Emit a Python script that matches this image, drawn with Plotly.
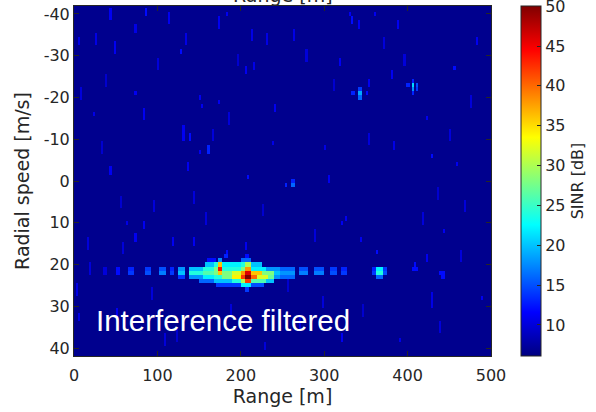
import numpy as np
import plotly.graph_objects as go

# Range-Doppler map grid (bin centres)
RANGE_STEP_M = 2.5
range_bins_m = np.arange(RANGE_STEP_M / 2, 500, RANGE_STEP_M)
speed_bins_mps = np.arange(-42, 43, 1.0)

# Residual noise floor after interference filtering [dB]
noise_floor_db = 6.7

# Isolated noise streaks: range [m], speed from / to [m/s], SINR [dB]
streak_range = [43, 86, 115, 75, 27, 7, 49, 129, 135, 173, 183, 215, 231, 263, 217, 207,
                73, 151, 155, 175, 241, 25, 131, 139, 161, 151, 137, 209, 239, 83, 43,
                335, 341, 331, 389, 361, 319, 457, 484, 381, 355, 425, 383, 429, 459, 301, 307,
                75, 63, 83, 119, 145, 183, 207, 3, 7, 51,
                321, 327, 345, 365, 409, 423, 445, 429, 321, 391, 490,
                253, 96, 60, 20, 110, 190, 290, 470, 440, 300, 230, 160,
                10, 39, 101, 167, 197, 279, 311, 353, 397, 437, 477, 17, 57, 93, 123,
                187, 227, 271, 347, 419, 463, 33, 143, 257, 371, 451]
streak_lo = [-41, -41, -40, -37, -35.7, -34, -33, -31.5, -35, -39, -40, -36, -35, -36, -28.5, -27,
             -21, -20.5, -18.5, -19.5, -18.5, -16, -13, -11, -8.5, -7.5, -4, -1, -9.5, -17, -3,
             -39, -38.5, -40.5, -38.5, -40.5, -29, -27.5, -34, -26, -24, -15.5, -9, -6.5, -4.5, -8.5, -1,
             13, 9.5, 9.5, 13.4, 13.4, 16.2, 14.5, 25, 32, 31,
             9.3, 8.5, 14, 16.5, 19.5, 18, 11.7, 27, 37, 38, 28,
             1, 5, 15, 20, 37, 30, 12, 5, 34, 28, 39, 8,
             -22, -25, -29, -12, -30, -31, -24, -11, -30, 2, -20, 14, 4, 26, 36,
             -16, 6, 33, 30, 8, 17, -9, 3, 24, -34, -12]
streak_hi = [-38.5, -40, -38, -36, -33, -33, -31, -30.5, -32.6, -37, -39.5, -34, -33, -34, -27, -26,
             -20.5, -19.5, -17.5, -18.5, -17, -15.5, -10, -10, -6.5, -6.5, -2.5, -0.5, -8.5, -15, -1.5,
             -38, -36.5, -40, -36.5, -40, -28, -27, -33, -25, -23, -14.5, -8, -6, -4, -7.5, 0.7,
             14, 10, 11.8, 15, 15, 18, 16, 27, 33.5, 32.5,
             10, 9.2, 14.5, 17.5, 20.8, 19, 12.8, 30, 38.5, 38.5, 28.5,
             1, 7, 17, 22, 39, 32, 14, 7, 36, 30, 40, 10,
             -20, -23, -27, -10, -28, -29, -22, -9, -28, 4, -18, 16, 6, 28, 38,
             -14, 8, 35, 32, 10, 19, -7, 5, 26, -32, -10]
streak_db = [11, 12, 11, 10.5, 10.5, 10.5, 11, 12, 10.5, 11, 11, 10.5, 10.5, 10.5, 10.5, 11,
             11, 11, 11, 11, 11, 10.5, 11, 12, 13, 11, 11, 12, 10.5, 11, 11,
             12, 11, 11, 11, 11, 11, 12, 11, 11, 11, 11, 10.5, 12, 11, 10.5, 11,
             11, 10.5, 11, 11, 11, 12, 11, 10.5, 10.5, 11,
             11, 11, 11, 12, 12, 11, 11, 10.5, 11, 10.5, 11,
             13, 10, 10, 10, 10, 10, 10, 10, 10, 10, 10, 10,
             10, 9.5, 10, 10, 9.5, 10, 9.5, 10, 10, 9.5, 10, 10, 9.5, 10, 9.5,
             10, 9.5, 10, 9.5, 10, 10, 9.5, 10, 9.5, 10, 10]

# Target returns per speed row [m/s]: (range from [m], range to [m], SINR [dB])
target_rows = {
    18: [(181, 185, 13), (205, 210, 12)],
    19: [(160, 170, 12), (172, 178, 18), (200, 212, 16)],
    20: [(158, 168, 20), (168, 172, 24), (172, 178, 36), (178, 200, 22), (200, 206, 24),
         (206, 212, 30), (212, 225, 20)],
    21: [(36, 40, 10), (50, 55, 12), (66, 72, 13), (86, 92, 14), (102, 110, 15), (116, 120, 13),
         (124, 132, 18), (138, 156, 20), (156, 168, 24), (168, 172, 28), (172, 178, 44),
         (178, 200, 24), (200, 206, 28), (206, 212, 38), (212, 230, 22), (230, 248, 18),
         (248, 264, 16), (270, 280, 15), (288, 300, 15), (308, 315, 14), (321, 327, 13),
         (357, 362, 13), (362, 370, 22), (370, 374, 14), (405, 412, 12)],
    22: [(36, 40, 10), (50, 55, 12), (66, 72, 14), (86, 92, 15), (102, 110, 17), (116, 120, 14),
         (124, 132, 20), (138, 156, 24), (156, 168, 26), (168, 172, 28), (172, 178, 36),
         (178, 190, 28), (190, 200, 32), (200, 206, 38), (206, 212, 46), (212, 225, 36),
         (225, 240, 28), (240, 248, 20), (248, 264, 18), (270, 280, 17), (288, 300, 17),
         (308, 315, 15), (321, 327, 14), (357, 362, 14), (362, 370, 24), (370, 374, 15),
         (438, 444, 12)],
    23: [(124, 132, 14), (138, 156, 18), (156, 168, 22), (168, 178, 24), (178, 190, 28),
         (190, 200, 34), (200, 206, 42), (206, 212, 50), (212, 220, 40), (220, 232, 32),
         (232, 240, 27), (240, 248, 18), (248, 264, 16), (362, 370, 16), (440, 444, 12)],
    24: [(150, 168, 16), (168, 190, 20), (190, 200, 24), (200, 206, 30), (206, 212, 42),
         (212, 230, 26), (230, 240, 20)],
    25: [(170, 200, 14), (200, 212, 22), (212, 228, 15)],
    26: [(205, 210, 14)],
    # weaker movers
    -24: [(404, 408, 13)],
    -23: [(398, 403, 13), (404, 408, 21), (409, 412, 15)],
    -22: [(341, 346, 14), (404, 408, 18), (409, 412, 14)],
    -21: [(333, 337, 13), (341, 346, 19), (349, 352, 12), (404, 408, 13)],
    -20: [(341, 346, 16)],
    0: [(261, 265, 13)],
    1: [(252, 255, 13), (261, 265, 16)],
}

# Colour scale limits [dB]
sinr_min_db = 6.1
sinr_max_db = 50.0

# Speed tick labels (hyphen-minus as printed)
speed_ticks = [-40, -30, -20, -10, 0, 10, 20, 30, 40]
speed_tick_text = ["-40", "-30", "-20", "-10", "0", "10", "20", "30", "40"]
range_ticks = [0, 100, 200, 300, 400, 500]
sinr_ticks = [10, 15, 20, 25, 30, 35, 40, 45, 50]

# MATLAB-style jet colour map
JET = [
    [0.0, "rgb(0,0,128)"],
    [0.125, "rgb(0,0,255)"],
    [0.375, "rgb(0,255,255)"],
    [0.625, "rgb(255,255,0)"],
    [0.875, "rgb(255,0,0)"],
    [1.0, "rgb(128,0,0)"],
]


def col_span(lo, hi):
    idx = np.where((range_bins_m >= lo) & (range_bins_m <= hi))[0]
    if idx.size == 0:
        idx = np.array([np.argmin(np.abs(range_bins_m - (lo + hi) / 2))])
    return idx


def row_span(lo, hi):
    idx = np.where((speed_bins_mps >= lo) & (speed_bins_mps <= hi))[0]
    if idx.size == 0:
        idx = np.array([np.argmin(np.abs(speed_bins_mps - (lo + hi) / 2))])
    return idx


sinr = np.full((speed_bins_mps.size, range_bins_m.size), noise_floor_db)
for r, lo, hi, db in zip(streak_range, streak_lo, streak_hi, streak_db):
    c = col_span(r - 0.5, r + 0.5)
    for ri in row_span(lo, hi):
        sinr[ri, c] = np.maximum(sinr[ri, c], db)
for spd, segs in target_rows.items():
    ri = row_span(spd, spd)
    for lo, hi, db in segs:
        for ci in col_span(lo, hi):
            sinr[ri, ci] = np.maximum(sinr[ri, ci], db)

INK = "#262626"
FONT = "DejaVu Sans"

fig = go.Figure(
    go.Heatmap(
        x=range_bins_m,
        y=speed_bins_mps,
        z=sinr,
        colorscale=JET,
        zmin=sinr_min_db,
        zmax=sinr_max_db + 0.02,
        zsmooth=False,
        colorbar=dict(
            x=1.071,
            xanchor="left",
            xpad=0,
            y=0.5,
            yanchor="middle",
            len=1.0,
            lenmode="fraction",
            ypad=0,
            thickness=20,
            outlinewidth=1,
            outlinecolor=INK,
            tickvals=sinr_ticks,
            ticks="inside",
            ticklen=4,
            tickcolor=INK,
            ticklabeloverflow="allow",
            tickfont=dict(family=FONT, size=16, color=INK),
            title=dict(text="SINR [dB]", side="right",
                       font=dict(family=FONT, size=16, color=INK)),
        ),
    )
)

fig.add_annotation(
    x=24, y=33.4, xref="x", yref="y",
    text="Interference filtered", showarrow=False,
    xanchor="left", yanchor="middle",
    font=dict(family="Liberation Sans", size=29.5, color="white"),
)

# Axis label of the panel above, clipped by the page edge
fig.add_annotation(
    x=0.5, y=1.0, xref="paper", yref="paper",
    text="Range [m]", showarrow=False,
    xanchor="center", yanchor="bottom", yshift=-2,
    font=dict(family=FONT, size=19, color=INK),
)

axis_common = dict(
    showline=True, linecolor=INK, linewidth=1, mirror="ticks",
    ticks="inside", ticklen=5, tickcolor=INK,
    tickfont=dict(family=FONT, size=16, color=INK),
    showgrid=False, zeroline=False,
)

fig.update_xaxes(
    range=[0, 500], tickvals=range_ticks, ticklabelstandoff=5,
    title=dict(text="Range [m]", font=dict(family=FONT, size=19, color=INK), standoff=4),
    **axis_common,
)
fig.update_yaxes(
    range=[41.9, -41.9], tickvals=speed_ticks, ticktext=speed_tick_text,
    title=dict(text="Radial speed [m/s]", font=dict(family=FONT, size=19, color=INK), standoff=9),
    **axis_common,
)

fig.update_layout(
    width=596, height=412,
    margin=dict(l=74, r=105, t=6, b=56),
    paper_bgcolor="white",
    plot_bgcolor="white",
)

fig.write_html("out.html")
